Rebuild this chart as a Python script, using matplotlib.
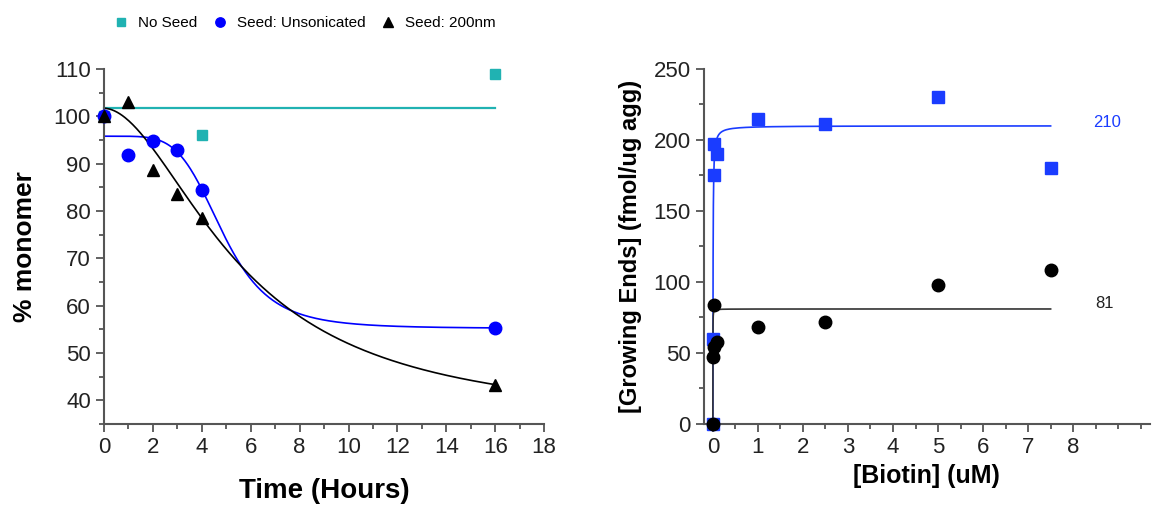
import numpy as np
import matplotlib
matplotlib.use('Agg')
import matplotlib.pyplot as plt
from matplotlib.ticker import MultipleLocator

plt.rcParams['font.family'] = ['Liberation Sans', 'DejaVu Sans']

# panel A: monomer left over time
t_noseed = [0, 4, 16]
y_noseed = [100, 96, 109]
t_unson = [0, 1, 2, 3, 4, 16]
y_unson = [100, 91.8, 94.8, 92.8, 84.5, 55.2]
t_200 = [0, 1, 2, 3, 4, 16]
y_200 = [100, 103, 88.7, 83.5, 78.5, 43.3]

# fit parameters (Hill form: top, bottom, x0, p)
fit_unson = (95.8, 55.2, 4.85, 5.0)
fit_200 = (101.7, 35.0, 5.61, 1.86)

# panel B: growing ends vs biotin
b_blue = [0, 0, 0.025, 0.025, 0.1, 1, 2.5, 5, 7.5]
g_blue = [0, 60, 175, 197, 190, 215, 211.5, 230, 180]
b_black = [0, 0, 0.025, 0.025, 0.1, 1, 2.5, 5, 7.5]
g_black = [0, 47, 54.5, 83.5, 58, 68, 72, 98, 108.5]
bmax_blue, kd_blue = 210, 0.004
bmax_black, kd_black = 81, 0.0005

cyan = '#20b2b2'
blue1 = '#0000ff'
blue2 = '#1a3cff'
spine_c = '#555555'


def hill(x, top, bot, x0, p):
    return bot + (top - bot) / (1 + (x / x0) ** p)


fig = plt.figure(figsize=(11.52, 5.05), dpi=100)

# ---- left panel
ax = fig.add_axes([0.0903, 0.1604, 0.382, 0.703])
ax.plot(t_noseed, y_noseed, 's', color=cyan, ms=7, label='No Seed', zorder=2)
ax.plot(t_unson, y_unson, 'o', color=blue1, ms=9, label='Seed: Unsonicated', zorder=3)
ax.plot(t_200, y_200, '^', color='black', ms=9, label='Seed: 200nm', zorder=4)

ax.plot([0, 16], [np.mean(y_noseed)] * 2, color=cyan, lw=1.6, zorder=1)
tt = np.linspace(0, 16, 300)
ax.plot(tt, hill(tt, *fit_unson), color=blue1, lw=1.2, zorder=1)
ax.plot(tt, hill(tt, *fit_200), color='black', lw=1.2, zorder=1)

ax.set_xlim(0, 18)
ax.set_ylim(35, 110)
ax.xaxis.set_major_locator(MultipleLocator(2))
ax.xaxis.set_minor_locator(MultipleLocator(1))
ax.yaxis.set_minor_locator(MultipleLocator(5))
ax.set_yticks(range(40, 111, 10))
ax.set_xlabel('Time (Hours)', fontsize=20, fontweight='bold', labelpad=14)
ax.set_ylabel('% monomer', fontsize=19, fontweight='bold', labelpad=12)
ax.legend(loc='lower left', bbox_to_anchor=(-0.01, 1.07), ncol=3, frameon=False,
          fontsize=11, handlelength=1.0, handletextpad=0.6, columnspacing=1.0,
          markerscale=0.75)

# ---- right panel
ax2 = fig.add_axes([0.611, 0.1604, 0.387, 0.703])
ax2.plot(b_blue, g_blue, 's', color=blue2, ms=8, zorder=3)
ax2.plot(b_black, g_black, 'o', color='black', ms=9, zorder=4)
bb = np.concatenate([np.linspace(0, 0.3, 300), np.linspace(0.3, 7.5, 100)])
ax2.plot(bb, bmax_blue * bb / (kd_blue + bb), color=blue2, lw=1.2, zorder=2)
ax2.plot(bb, bmax_black * bb / (kd_black + bb), color='#333333', lw=1.2, zorder=2)
ax2.text(8.45, bmax_blue + 2, str(bmax_blue), color=blue2, fontsize=12, va='center')
ax2.text(8.5, bmax_black + 4, str(bmax_black), color='#222222', fontsize=12, va='center')

ax2.set_xlim(-0.2, 9.7)
ax2.set_ylim(0, 250)
ax2.set_xticks(range(0, 9))
ax2.xaxis.set_minor_locator(MultipleLocator(0.5))
ax2.yaxis.set_major_locator(MultipleLocator(50))
ax2.yaxis.set_minor_locator(MultipleLocator(25))
ax2.set_xlabel('[Biotin] (uM)', fontsize=18, fontweight='bold', labelpad=4)
ax2.set_ylabel('[Growing Ends] (fmol/ug agg)', fontsize=17, fontweight='bold', labelpad=8)

for a in (ax, ax2):
    for s in ('top', 'right'):
        a.spines[s].set_visible(False)
    for s in ('left', 'bottom'):
        a.spines[s].set_color(spine_c)
        a.spines[s].set_linewidth(1.5)
    a.tick_params(which='both', direction='out', color=spine_c, width=1.3)
    a.tick_params(which='major', length=6, labelsize=16, labelcolor='#222222')
    a.tick_params(which='minor', length=3.5)
    for ln in a.lines:
        ln.set_clip_on(False)

fig.savefig('out.png', dpi=100)
